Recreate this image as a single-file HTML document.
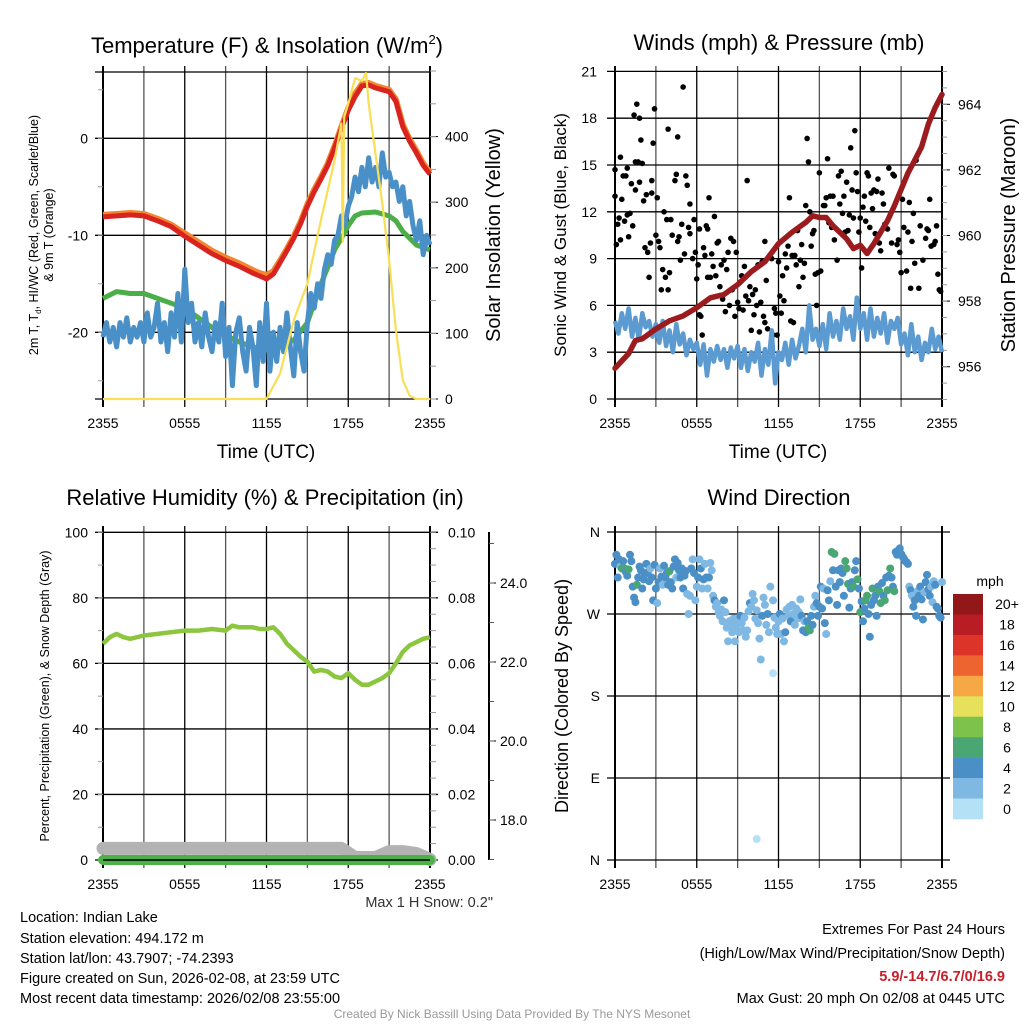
<!DOCTYPE html>
<html><head><meta charset="utf-8"><style>
html,body{margin:0;padding:0;background:#fff;}
svg{display:block;font-family:"Liberation Sans",sans-serif;}
</style></head><body>
<svg id="fig" width="1024" height="1024" viewBox="0 0 1024 1024" xmlns="http://www.w3.org/2000/svg">
<rect width="1024" height="1024" fill="#fff"/>
<g id="layer"></g>
<g font-size="22" text-anchor="middle">
<text x="267" y="53">Temperature (F) &amp; Insolation (W/m<tspan font-size="13" dy="-9">2</tspan><tspan dy="9">)</tspan></text>
<text x="779" y="50">Winds (mph) &amp; Pressure (mb)</text>
<text x="265" y="505">Relative Humidity (%) &amp; Precipitation (in)</text>
<text x="779" y="505">Wind Direction</text>
</g>
<g text-anchor="middle">
<text x="266" y="458" font-size="19">Time (UTC)</text>
<text x="778" y="458" font-size="19">Time (UTC)</text>
<text transform="translate(38,235) rotate(-90)" font-size="12.5">2m T, T<tspan font-size="8" dy="3">d</tspan><tspan dy="-3">, HI/WC (Red, Green, Scarlet/Blue)</tspan></text>
<text transform="translate(53,235) rotate(-90)" font-size="12.5">&amp; 9m T (Orange)</text>
<text transform="translate(500,235) rotate(-90)" font-size="20">Solar Insolation (Yellow)</text>
<text transform="translate(566,235) rotate(-90)" font-size="17">Sonic Wind &amp; Gust (Blue, Black)</text>
<text transform="translate(1015,235) rotate(-90)" font-size="20">Station Pressure (Maroon)</text>
<text transform="translate(49,696) rotate(-90)" font-size="12.5">Percent, Precipitation (Green), &amp; Snow Depth (Gray)</text>
<text transform="translate(568,696) rotate(-90)" font-size="18">Direction (Colored By Speed)</text>
<text x="990" y="586" font-size="14">mph</text>
</g>
<g font-size="14.5">
<text x="493" y="907" text-anchor="end" fill="#333">Max 1 H Snow: 0.2"</text>
<text x="20" y="922">Location: Indian Lake</text>
<text x="20" y="943">Station elevation: 494.172 m</text>
<text x="20" y="963">Station lat/lon: 43.7907; -74.2393</text>
<text x="20" y="983">Figure created on Sun, 2026-02-08, at 23:59 UTC</text>
<text x="20" y="1003">Most recent data timestamp: 2026/02/08 23:55:00</text>
<text x="1005" y="934" text-anchor="end">Extremes For Past 24 Hours</text>
<text x="1005" y="958" text-anchor="end">(High/Low/Max Wind/Precipitation/Snow Depth)</text>
<text x="1005" y="981" text-anchor="end" fill="#c8202a" font-weight="bold">5.9/-14.7/6.7/0/16.9</text>
<text x="1005" y="1003" text-anchor="end">Max Gust: 20 mph On 02/08 at 0445 UTC</text>
<text x="512" y="1018" text-anchor="middle" font-size="12" fill="#999">Created By Nick Bassill Using Data Provided By The NYS Mesonet</text>
</g>
</svg>
<script>
// ---------- data ----------
const timeTickLabels = ["2355","0555","1155","1755","2355"];
const tempTicks = [-20,-10,0];
const solarTicks = [0,100,200,300,400];
const windTicks = [0,3,6,9,12,15,18,21];
const pressTicks = [956,958,960,962,964];
const rhTicks = [0,20,40,60,80,100];
const precipTicks = ["0.00","0.02","0.04","0.06","0.08","0.10"];
const snowTicks = [18,20,22,24];
const dirTicks = ["N","E","S","W","N"];
const speedBins = ["0","2","4","6","8","10","12","14","16","18","20+"];
const speedColors = ["#b5e1f7","#7fb9e3","#4a8fc6","#4aa673","#7cc24b","#e6e05a","#f5a844","#ee6430","#dc3428","#b81c24","#921719"];

const tempTimes = [0,1,2,3,4,5,6,7,8,9,10,11,11.5,12,12.5,13,13.5,14,14.5,15,15.5,16,16.5,17,17.5,18,18.5,19,19.5,20,20.5,21,21.5,22,22.5,23,23.5,24];
const temp2m = [-8.1,-8.0,-7.9,-8.0,-8.5,-9.1,-10.1,-11.0,-11.9,-12.6,-13.2,-13.9,-14.2,-14.5,-14.0,-12.8,-11.6,-10.3,-8.8,-7.0,-5.5,-4.2,-2.8,-1.0,1.0,2.9,4.3,5.4,5.5,5.2,5.0,4.8,3.8,1.2,-0.3,-1.5,-2.8,-3.7];
const temp9m = [-7.9,-7.8,-7.7,-7.8,-8.3,-8.9,-9.8,-10.7,-11.6,-12.3,-12.9,-13.6,-13.9,-14.1,-13.7,-12.6,-11.4,-10.1,-8.6,-6.8,-5.3,-4.0,-2.6,-0.8,1.2,3.1,4.6,5.6,5.7,5.4,5.2,5.0,4.0,1.4,-0.1,-1.3,-2.6,-3.5];
const dewTimes = [0,1,2,3,4,5,6,7,8,9,10,11,12,13,14,15,15.5,16,16.5,17,17.5,18,18.5,19,20,21,21.5,22,23,24];
const dewPoint = [-16.5,-15.8,-16,-16,-16.5,-17,-17.5,-18.5,-19.5,-20.3,-21,-21.5,-21.8,-21.5,-20.8,-19,-17,-15,-13.3,-11.5,-10.3,-9,-8,-7.7,-7.6,-8,-8.5,-9.6,-11,-11.5];
// wind chill: one row per hour, four 15-minute readings each, then final reading
const windChillHourly = [
 [-20.5,-19,-21,-19.5],[-21.5,-19,-20.5,-18.5],[-21,-19.5,-20.5,-19],[-21,-18,-20.5,-19.5],
 [-17,-21,-19,-22],[-18,-20.5,-16,-21],[-13.5,-19,-17,-21],[-19,-21.5,-18,-20.5],
 [-22,-19,-21,-17],[-22.5,-19.5,-25.5,-20],[-18.5,-22,-24,-19.5],[-21.5,-25.5,-19,-23],
 [-17,-24,-20,-23],[-19.5,-22,-18,-21.5],[-24.5,-19,-22,-24],[-19,-16,-17.5,-15],
 [-16.5,-13.5,-12,-13],[-10.5,-10,-8,-9],[-7,-6,-4,-5.5],[-3,-5,-2,-4.5],
 [-3,-5,-1.5,-4],[-3.5,-5,-4.5,-6.5],[-5,-8,-6.5,-9],[-10.5,-8.5,-12,-10]];
const windChillFinal = -11;
const insolTimes = [0,12,13,14,15,16,17,17.5,17.6,17.7,18,18.5,19,19.3,19.5,20,20.5,21,21.5,22,22.5,23,24];
const insolValues = [0,0,39,120,176,273,364,420,240,430,450,489,485,497,450,374,298,212,105,29,5,0,0];

const windHourly = [
 [5,4.2,5.5,4.5],[5.8,4,5.2,3.8],[5.5,4.6,5,4],[4.8,3.6,5,3.4],[4.4,3,4.8,3.5],[4.2,2.8,3.8,3.2],
 [3.6,2.2,3.5,1.5],[3.2,2.4,3.4,2.5],[3.2,2,3.3,2.6],[3.4,2,3.2,1.8],[3,2.4,3.6,1.5],[3.2,2.2,4.4,1],
 [3,2.5,3.6,2.2],[3.8,2.6,3.4,4.5],[3,6,3.8,4.5],[3.4,4.8,3.2,5.5],[4,5,3.8,5.8],[4.5,5.3,3.8,6.5],
 [4.5,5.5,3.8,5.8],[4,5.2,4.2,5.5],[3.6,5,4.5,5.2],[3.5,4.2,2.8,4.8],[3,4,2.5,3.6],[3,4.5,3.2,4]];
const windFinal = 3;
const pressTimes = [0,1,1.5,2,3,4,5,6,7,8,9,10,11,12,13,14,14.5,15,15.5,16,16.5,17,17.5,18,18.5,19,19.5,20,20.5,21,21.5,22,22.5,23,23.5,24];
const pressValues = [955.95,956.4,956.8,956.85,957.15,957.4,957.55,957.8,958.1,958.2,958.5,958.9,959.2,959.75,960.1,960.4,960.6,960.55,960.55,960.3,960.1,959.9,959.6,959.7,959.45,959.75,960.1,960.45,960.9,961.4,961.9,962.3,962.7,963.4,963.9,964.3];
const gustTimes = [0,0,0.1,0.2,0.3,0.4,0.4,0.5,0.6,0.7,0.8,0.9,0.9,1,1.1,1.2,1.3,1.4,1.5,1.5,1.6,1.7,1.8,1.8,1.9,2,2.1,2.2,2.3,2.4,2.5,2.6,2.7,2.7,2.8,2.9,3,3.1,3.2,3.3,3.4,3.5,3.6,3.7,3.8,3.9,3.9,4,4.1,4.2,4.4,4.5,4.6,4.6,4.7,4.8,4.9,5,5.1,5.2,5.3,5.4,5.5,5.5,5.7,5.8,5.9,6,6.1,6.2,6.2,6.3,6.4,6.5,6.6,6.7,6.8,6.8,6.9,7,7.1,7.2,7.3,7.4,7.5,7.6,7.7,7.8,7.9,8,8.1,8.2,8.3,8.4,8.5,8.6,8.7,8.8,8.9,9,9.1,9.2,9.3,9.4,9.5,9.6,9.7,9.8,9.9,10,10.1,10.2,10.3,10.4,10.5,10.6,10.7,10.8,10.9,11,11,11.1,11.2,11.4,11.5,11.6,11.7,11.8,11.9,12,12.1,12.2,12.3,12.4,12.5,12.6,12.7,12.8,12.9,13,13.1,13.2,13.3,13.4,13.5,13.6,13.7,13.8,13.9,14,14.1,14.2,14.3,14.4,14.5,14.6,14.7,14.8,14.9,15,15.1,15.3,15.4,15.5,15.6,15.7,15.8,15.9,16,16.1,16.3,16.4,16.5,16.6,16.7,16.8,16.9,17,17.1,17.2,17.3,17.4,17.5,17.6,17.7,17.8,17.9,18,18.1,18.2,18.3,18.4,18.5,18.6,18.7,18.8,18.9,19,19.1,19.2,19.3,19.4,19.5,19.6,19.7,19.8,20,20.1,20.3,20.4,20.5,20.7,20.8,20.9,21,21.1,21.2,21.4,21.5,21.6,21.7,21.8,21.9,22,22.1,22.3,22.4,22.6,22.8,22.9,23.0,23.1,23.2,23.4,23.5,23.6,23.7,23.8,23.9];
const gustValues = [14.7,13,9.9,11.2,11.6,10.2,15.5,12.8,14.3,11.4,14.3,11.8,14.8,10.4,11.9,13.8,11.1,18.2,13.4,15.2,18.9,15.2,18,13.9,16.6,15.1,12.7,9.7,13.1,9.4,7.8,10,13.2,14,16.4,18.6,10.5,12.9,10.1,9.7,7,8.3,12,7.8,11.5,17.3,7,8.1,11.5,10.5,14,14.4,16.8,10.1,10.4,8.9,11.2,20,9.3,14.3,13.7,11,12.5,10.6,9,11.5,9.4,7.7,8.6,10.9,5.4,5.3,4.1,9.7,9.2,11.1,10.9,7.8,12.9,7.8,9.3,8.5,11.7,7.9,10,10.1,7.2,8.6,6.4,8.9,5.6,8.3,9.4,6,10.3,7,10.1,5.3,9.4,6.2,5.8,7.5,7.9,5.7,8.5,6.6,14,6.3,7.2,4.4,6.7,5.4,7,6,8.6,4.3,6.2,8.8,5.3,10.1,4.9,7.6,4.5,3.1,9,4.1,5.8,5.5,4.1,8.8,6.6,5.5,7.9,6.3,9.3,8.4,9.8,12.9,5,9.2,4.9,9.2,8.6,10.8,7.2,8.9,9.9,7.8,8.7,12.4,16.7,15.2,12,9.8,10.6,10.8,8,6,8.1,14.5,8.2,12.4,12.4,12.9,15.4,11.3,13,11,13,10.2,8.9,14.3,12.5,14.6,11.9,13,10.7,13.9,10.8,11.8,16.1,13.4,11.6,17.2,14.5,13.3,10.7,11.6,8.4,12.3,13,11.4,14.5,14.3,11,13.2,12.2,13.4,10.6,13.3,14.1,10,9.5,13.2,12.5,11.2,10.9,14.8,10,14.4,14.3,9.9,10.2,9.4,8.1,12.8,11,8.2,10.7,12.6,7.1,10.1,11.9,8.7,15.3,7.1,11.1,8.9,10.3,10.9,10.8,12.8,9.8,9.9,10.1,11.1,8,7,6.9];

const rhTimes = [0,0.5,1,1.5,2,3,4,5,6,7,8,9,9.5,10,11,11.5,12,12.5,13,13.5,14,14.5,15,15.5,16,16.5,17,17.5,18,18.5,19,19.5,20,20.5,21,21.5,22,22.5,23,23.5,24];
const rhValues = [66,68,69,68,67.5,68.5,69,69.5,70,70,70.5,70,71.5,71,71,70.5,70.5,71,69,66,64,62,60.5,57.5,58,57.5,56,55.5,57,55,53.5,53.5,54.5,55.5,57,60,63.5,65.5,66.5,67.5,68];
const precipTimes = [0,24];
const precipValues = [0,0];
const snowTimes = [0,6,12,17.5,18.5,20,21,22,23,24];
const snowValues = [17.28,17.28,17.28,17.28,17.05,17.05,17.2,17.2,17.15,17.0];

const dirTimes = [0,0.1,0.2,0.3,0.4,0.5,0.6,0.7,0.8,0.9,1,1.1,1.2,1.3,1.4,1.5,1.6,1.7,1.8,1.9,2,2.1,2.2,2.3,2.4,2.5,2.6,2.7,2.8,2.9,3,3.1,3.2,3.3,3.4,3.5,3.6,3.7,3.8,3.9,4,4.1,4.2,4.3,4.4,4.5,4.6,4.7,4.8,4.9,5,5.1,5.2,5.3,5.4,5.5,5.6,5.7,5.8,5.9,6,6.1,6.2,6.3,6.4,6.5,6.6,6.7,6.8,6.9,7,7.1,7.2,7.3,7.4,7.5,7.6,7.7,7.8,7.9,8,8.1,8.2,8.3,8.4,8.5,8.6,8.7,8.8,8.9,9,9.1,9.2,9.3,9.4,9.5,9.6,9.7,9.8,9.9,10,10.1,10.2,10.3,10.4,10.5,10.6,10.7,10.8,10.9,11,11.1,11.2,11.3,11.4,11.6,11.7,11.8,11.9,12,12.1,12.2,12.3,12.4,12.5,12.6,12.7,12.8,12.9,13,13.1,13.2,13.3,13.4,13.5,13.6,13.7,13.8,13.9,14,14.1,14.2,14.3,14.4,14.5,14.6,14.7,14.8,14.9,15,15.1,15.2,15.3,15.4,15.5,15.6,15.7,15.8,15.9,16,16.1,16.2,16.3,16.4,16.5,16.6,16.7,16.8,16.9,17,17.1,17.2,17.3,17.4,17.5,17.6,17.7,17.8,17.9,18,18.1,18.2,18.3,18.4,18.5,18.6,18.7,18.8,18.9,19,19.1,19.2,19.3,19.4,19.5,19.6,19.7,19.8,19.9,20,20.1,20.2,20.3,20.4,20.5,20.6,20.7,20.8,20.9,21,21.1,21.2,21.3,21.4,21.5,21.6,21.7,21.8,21.9,22,22.1,22.2,22.3,22.4,22.5,22.6,22.7,22.8,22.9,23,23.1,23.2,23.3,23.4,23.5,23.6,23.7,23.8,23.9,24,10.4];
const dirValues = [325,335,310,330,322,320,328,320,316,312,319,335,328,300,288,283,302,310,322,318,298,308,314,325,316,306,320,310,285,324,298,282,305,320,311,302,323,310,315,302,317,305,298,322,330,310,326,318,310,320,298,312,317,292,270,290,320,330,315,285,300,310,330,320,298,308,325,310,298,310,326,318,290,285,278,282,272,268,275,262,285,272,255,240,262,258,250,265,240,255,262,250,268,260,252,266,245,252,273,282,278,292,285,265,274,260,243,220,268,288,280,258,270,250,300,285,266,255,248,262,270,248,265,240,250,275,268,278,262,280,270,258,276,265,272,286,268,252,262,250,262,255,252,268,258,278,290,282,268,278,300,276,298,260,248,296,285,306,338,318,336,300,280,318,305,320,315,290,328,320,303,277,298,305,300,318,328,308,298,272,284,262,276,285,290,270,245,280,298,285,290,268,300,295,282,304,290,285,310,296,312,320,310,300,295,338,335,340,342,336,333,331,328,327,325,300,296,290,278,285,268,295,290,300,286,264,294,305,313,297,290,300,283,306,302,278,276,268,266,305,23];
const dirSpeeds = [4,4,4,4,3,6,4,6,4,4,6,4,4,4,4,4,6,4,4,4,4,4,4,4,4,4,3,4,4,4,4,3,4,3,4,3,4,4,4,4,6,4,4,4,4,3,4,4,4,4,4,4,4,3,3,3,4,3,4,3,3,4,3,4,3,4,3,4,3,4,3,3,3,4,3,3,3,3,3,3,4,3,3,3,3,3,3,3,3,3,3,3,4,3,3,3,3,2,3,4,3,3,3,3,3,3,3,3,4,3,3,3,4,3,3,3,3,3,3,3,4,3,3,3,4,3,3,3,4,3,3,3,3,3,3,3,4,4,3,4,4,6,6,4,4,3,3,4,4,4,4,4,3,4,3,4,4,3,6,4,6,4,4,4,4,4,4,4,6,6,6,4,4,4,6,4,4,6,4,6,4,4,4,6,6,4,4,4,6,4,4,4,4,6,6,4,4,6,4,6,4,6,4,4,6,4,4,4,4,4,4,4,4,4,4,3,4,3,4,4,4,3,4,4,4,4,3,4,4,4,4,3,3,3,4,4,4,4,4,3,1];
const outlierDir = {t:11.6, deg:205, spd:1};

// ---------- helpers ----------
const NS = "http://www.w3.org/2000/svg";
const layer = document.getElementById('layer');
function mk(tag, attrs, parent){
  const e = document.createElementNS(NS, tag);
  for (const k in attrs) e.setAttribute(k, attrs[k]);
  (parent||layer).appendChild(e);
  return e;
}
function group(name){
  const g = document.createElementNS(NS,'g');
  
  
  layer.appendChild(g);
  return g;
}
function linePath(xs, ys, X, Y){
  let d = '';
  for (let i=0;i<xs.length;i++) d += (i?'L':'M') + X(xs[i]).toFixed(1) + ' ' + Y(ys[i]).toFixed(1);
  return d;
}
function flattenHourly(rows, last){
  const ts=[], vs=[];
  rows.forEach((row,h)=>row.forEach((v,j)=>{ts.push(h + j/row.length); vs.push(v);}));
  ts.push(24); vs.push(last);
  return {ts, vs};
}

function panel(x0, y0, y1, name){
  const X = t => x0 + t/24*327;
  const g = group(name + '-grid');
  for (let h=0; h<=24; h+=3){
    const l = mk('line',{x1:X(h),x2:X(h),y1:y0-6,y2:y1+8,stroke:(h%6===0)?'#000':'#555','stroke-width':(h===0||h===24)?2:1.3},g);
    
    
  }
  timeTickLabels.forEach((lab,i)=>{
    const t = mk('text',{x:X(i*6),y:y1+29,'font-size':14,'text-anchor':'middle'},g);
    t.textContent = lab;
    
    
  });
  return {X, g};
}
function hGrid(g, x0, ys, labels, side, lx, color){
  ys.forEach((y,i)=>{
    const l = mk('line',{x1:x0-8,x2:x0+327+(side==='r'?8:0),y1:y,y2:y,stroke:color||'#000','stroke-width':1.3},g);
    
    
    if (labels){
      const t = mk('text',{x:lx,y:y+5,'font-size':14,'text-anchor':'end'},g);
      t.textContent = labels[i];
      
      
    }
  });
}
function rightLabels(g, x, ys, labels, tickX){
  ys.forEach((y,i)=>{
    mk('line',{x1:tickX,x2:tickX+8,y1:y,y2:y,stroke:'#000','stroke-width':1},g);
    const t = mk('text',{x:x,y:y+5,'font-size':14},g);
    t.textContent = labels[i];
    
    
  });
}

// ---------- panel 1: temperature ----------
(function(){
  const {X, g} = panel(103, 72, 399, 'temperature');
  const Y = v => 138.3 - v*9.7;
  const S = v => 399 - v*0.656;
  hGrid(g, 103, tempTicks.map(Y), tempTicks, 'l', 88);
  hGrid(g, 103, [72, 399], null, 'l', 0);
  rightLabels(g, 445, solarTicks.map(S), solarTicks, 430);
  for (let v=-25; v<=5; v+=5) mk('line',{x1:98,x2:103,y1:Y(v),y2:Y(v),stroke:'#999'},g);
  for (let v=0; v<=500; v+=50) mk('line',{x1:430,x2:436,y1:S(v),y2:S(v),stroke:'#999'},g);
  let p = mk('path',{d:linePath(dewTimes, dewPoint, X, Y),fill:'none',stroke:'#4bae48','stroke-width':5,'stroke-linejoin':'round'});
   
  const wc = flattenHourly(windChillHourly, windChillFinal);
  p = mk('path',{d:linePath(wc.ts, wc.vs, X, Y),fill:'none',stroke:'#4a90c8','stroke-width':5,'stroke-linejoin':'round'});
   
  p = mk('path',{d:linePath(tempTimes, temp9m, X, Y),fill:'none',stroke:'#f2862f','stroke-width':6,'stroke-linejoin':'round'});
   
  p = mk('path',{d:linePath(tempTimes, temp2m, X, Y),fill:'none',stroke:'#d9231f','stroke-width':5,'stroke-linejoin':'round'});
   
  p = mk('path',{d:linePath(insolTimes, insolValues, X, S),fill:'none',stroke:'#f8df55','stroke-width':2.2,'stroke-linejoin':'round'});
   
})();

// ---------- panel 2: winds ----------
(function(){
  const {X, g} = panel(615, 72, 399, 'winds');
  const Y = v => 399 - v*15.6;
  const P = v => 366.7 - (v-956)*32.8;
  hGrid(g, 615, windTicks.map(Y), windTicks, 'l', 597);
  rightLabels(g, 958, pressTicks.map(P), pressTicks, 942);
  for (let v=955; v<=965; v+=0.5) mk('line',{x1:942,x2:947,y1:P(v),y2:P(v),stroke:'#999'},g);
  const gg = group('gust-points');
  for (let i=0;i<gustTimes.length;i++){
    const c = mk('circle',{cx:X(gustTimes[i]),cy:Y(gustValues[i]),r:2.8,fill:'#000'},gg);
    
    
  }
  const ws = flattenHourly(windHourly, windFinal);
  let p = mk('path',{d:linePath(ws.ts, ws.vs, X, Y),fill:'none',stroke:'#5b9bd2','stroke-width':4.5,'stroke-linejoin':'round'});
   
  p = mk('path',{d:linePath(pressTimes, pressValues, X, P),fill:'none',stroke:'#9b1b1e','stroke-width':5.5,'stroke-linejoin':'round','stroke-linecap':'round'});
   
})();

// ---------- panel 3: humidity ----------
(function(){
  const {X, g} = panel(103, 532, 860, 'humidity');
  const Y = v => 860 - v*3.277;
  const Sn = v => 662 - (v-22)*39.5;
  hGrid(g, 103, rhTicks.map(Y), rhTicks, 'r', 88);
  rightLabels(g, 448, rhTicks.map(Y), precipTicks, 430);
  for (let v=0; v<=100; v+=5) mk('line',{x1:430,x2:436,y1:Y(v),y2:Y(v),stroke:'#999'},g);
  for (let v=10; v<=100; v+=10) mk('line',{x1:98,x2:103,y1:Y(v),y2:Y(v),stroke:'#999'},g);
  mk('line',{x1:489,x2:489,y1:532,y2:860,stroke:'#000','stroke-width':2},g);
  snowTicks.forEach(v=>{
    mk('line',{x1:489,x2:496,y1:Sn(v),y2:Sn(v),stroke:'#000'},g);
    const t = mk('text',{x:500,y:Sn(v)+5,'font-size':14},g);
    t.textContent = v.toFixed(1);
    
    
  });
  for (let v=17; v<=25; v+=1) mk('line',{x1:489,x2:494,y1:Sn(v),y2:Sn(v),stroke:'#555'},g);
  let p = mk('path',{d:linePath(snowTimes, snowValues, X, Sn),fill:'none',stroke:'#b3b3b3','stroke-width':13,'stroke-linecap':'round','stroke-linejoin':'round'});
   
  p = mk('path',{d:linePath(precipTimes, precipValues.map(v=>v*1000), X, Y),fill:'none',stroke:'#4bb24a','stroke-width':10,'stroke-linecap':'round'});
   
  mk('line',{x1:103,x2:430,y1:860,y2:860,stroke:'#000','stroke-width':1.5});
  p = mk('path',{d:linePath(rhTimes, rhValues, X, Y),fill:'none',stroke:'#8cc63f','stroke-width':4.5,'stroke-linejoin':'round'});
   
})();

// ---------- panel 4: wind direction ----------
(function(){
  const {X, g} = panel(615, 532, 860, 'wind-direction');
  const Y = d => 860 - d*328/360;
  hGrid(g, 615, dirTicks.map((_,i)=>Y(i*90)), dirTicks, 'r', 600);
  const dg = group('direction-points');
  const colorFor = s => speedColors[Math.min(10, Math.floor(s/2))];
  for (let i=0;i<dirTimes.length;i++){
    const c = mk('circle',{cx:X(dirTimes[i]),cy:Y(dirValues[i]),r:4,fill:colorFor(dirSpeeds[i])},dg);
    
    
  }
  const oc = mk('circle',{cx:X(outlierDir.t),cy:Y(outlierDir.deg),r:4,fill:colorFor(outlierDir.spd)},dg);
  
  
  const cb = group('speed-colorbar');
  const h = 225/speedBins.length;
  speedBins.forEach((lab,i)=>{
    const k = speedBins.length-1-i;
    const r = mk('rect',{x:953,y:594+i*h,width:30,height:h+0.3,fill:speedColors[k]},cb);
    
    
    const t = mk('text',{x:1007,y:594+i*h+h/2+5,'font-size':14,'text-anchor':'middle'},cb);
    t.textContent = speedBins[k];
    
    
  });
})();
</script>
</body></html>
